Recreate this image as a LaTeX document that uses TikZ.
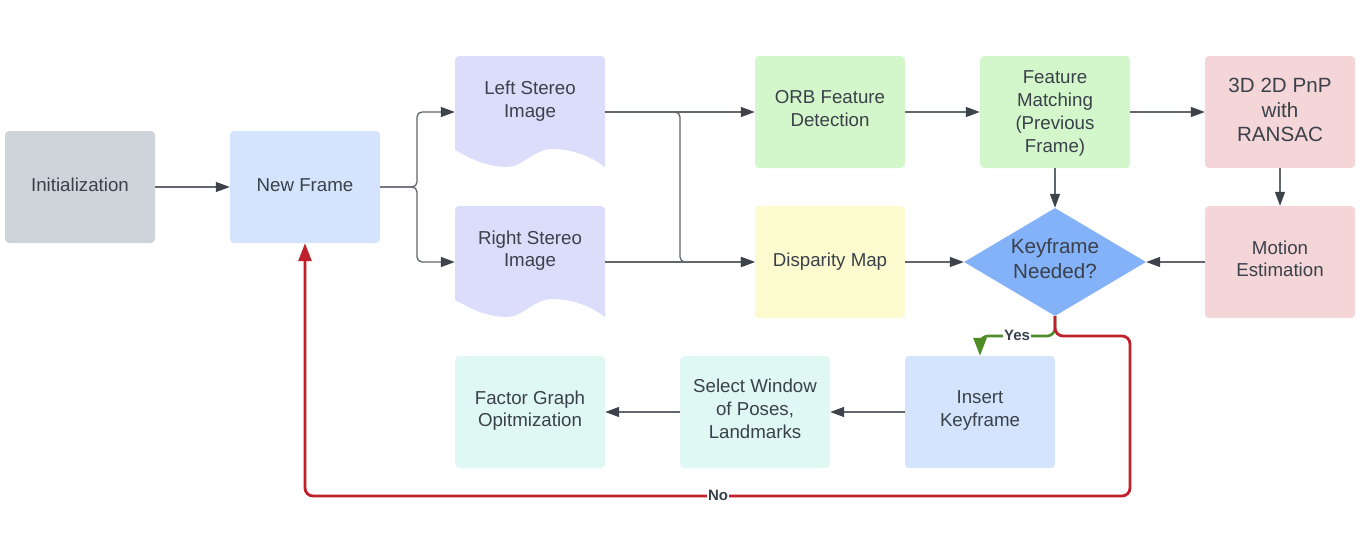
\documentclass[tikz,border=0pt]{standalone}
\usepackage{fontspec}
\setmainfont{Liberation Sans}
\usetikzlibrary{arrows.meta,shapes.geometric}
\definecolor{txt}{HTML}{3A414A}
\definecolor{lc}{HTML}{62666D}
\definecolor{ah}{HTML}{3D424B}
\definecolor{grayf}{HTML}{CFD4DB}
\definecolor{bluef}{HTML}{D4E4FC}
\definecolor{lavf}{HTML}{DCDCFB}
\definecolor{greenf}{HTML}{D3F7CB}
\definecolor{pinkf}{HTML}{F5D6D8}
\definecolor{yellowf}{HTML}{FCFBCF}
\definecolor{diamf}{HTML}{84B2F9}
\definecolor{tealf}{HTML}{E0F8F4}
\definecolor{redl}{HTML}{C0202A}
\definecolor{greenl}{HTML}{4D8C26}
\newcommand{\docshape}[2]{%
  \fill[lavf] (#1-75,#2+38) [rounded corners=4pt] -- (#1-75,#2-56) -- (#1+75,#2-56) [sharp corners] -- (#1+75,#2+55)
    .. controls (#1+55,#2+40) and (#1+35,#2+37) .. (#1+22,#2+37)
    .. controls (#1+5,#2+37) and (#1-8,#2+55) .. (#1-23,#2+55)
    .. controls (#1-45,#2+55) and (#1-62,#2+45) .. cycle;}
\begin{document}
\begin{tikzpicture}[x=1pt,y=-1pt,
  txtsty/.style={text=txt, align=center, font=\fontsize{18.7}{22.7}\selectfont,
    execute at begin node=\strut, execute at end node=\strut},
  bigtxt/.style={font=\fontsize{20.6}{24.5}\selectfont},
  box/.style={txtsty, rounded corners=4pt, minimum width=150pt, minimum height=112pt, inner sep=0pt},
  ghost/.style={minimum width=150pt, minimum height=112pt, inner sep=0pt},
  conn/.style={draw=lc, line width=1.3pt, -{Triangle[length=14pt,width=10pt,color=ah]}},
  nol/.style={draw=redl, line width=2.8pt, rounded corners=8pt, -{Triangle[length=18pt,width=13pt,color=redl]}},
  yesl/.style={draw=greenl, line width=2.6pt, rounded corners=8pt, -{Triangle[length=18pt,width=13pt,color=greenl]}},
  lab/.style={fill=white, text=txt, inner sep=1pt, font=\bfseries\fontsize{15}{15}\selectfont}
]
\useasboundingbox (0,0) rectangle (1360,546);

% boxes
\node[box, fill=grayf] (init) at (80,187) {Initialization};
\node[box, fill=bluef] (nf) at (305,187) {New Frame};
\docshape{530}{112}
\node[ghost] (ls) at (530,112) {};
\node[txtsty] (lst) at (530,102.5) {Left Stereo\\Image};
\docshape{530}{262}
\node[ghost] (rs) at (530,262) {};
\node[txtsty] (rst) at (530,252) {Right Stereo\\Image};
\node[box, fill=greenf] (orb) at (830,112) {ORB Feature\\Detection};
\node[box, fill=greenf] (fm) at (1055,112) {};
\node[txtsty] (fmt) at (1055,115) {Feature\\Matching\\(Previous\\Frame)};
\node[box, fill=pinkf] (pnp) at (1280,112) {};
\node[txtsty, bigtxt] (pnpt) at (1280,113.5) {3D 2D PnP\\with\\RANSAC};
\node[box, fill=yellowf] (dm) at (830,262) {Disparity Map};
\node[txtsty, bigtxt, diamond, fill=diamf, aspect=1.685, minimum width=182pt, minimum height=108pt, inner sep=0pt] (kf) at (1055,262) {Keyframe\\Needed?};
\node[box, fill=pinkf] (me) at (1280,262) {Motion\\Estimation};
\node[box, fill=bluef] (ik) at (980,412) {Insert\\Keyframe};
\node[box, fill=tealf] (sw) at (755,412) {Select Window\\of Poses,\\Landmarks};
\node[box, fill=tealf] (fg) at (530,412) {Factor Graph\\Opitmization};

% connectors
\draw[conn] (init) -- (nf);
\draw[conn, rounded corners=5pt] (nf.east) -- (417,187) |- (ls.west);
\draw[conn, rounded corners=5pt] (nf.east) -- (417,187) |- (rs.west);
\draw[conn] (ls.east) -- (orb.west);
\draw[conn, rounded corners=5pt] (ls.east) -- (680,112) |- (dm.west);
\draw[conn] (rs.east) -- (dm.west);
\draw[conn] (orb) -- (fm);
\draw[conn] (fm) -- (pnp);
\draw[conn] (fm.south) -- (kf.north);
\draw[conn] (pnp) -- (me);
\draw[conn] (me.west) -- (kf.east);
\draw[conn] (dm.east) -- (kf.west);
\draw[conn] (ik) -- (sw);
\draw[conn] (sw) -- (fg);

\draw[yesl] (kf.south) -- (1055,336) -- (980,336) -- (ik.north);
\draw[nol] (kf.south) -- (1055,336) -- (1130,336) -- (1130,496) -- (305,496) -- (nf.south);
\node[lab] (yeslab) at (1017,335) {Yes};
\node[lab] (nolab) at (718,495) {No};
\end{tikzpicture}
\end{document}
